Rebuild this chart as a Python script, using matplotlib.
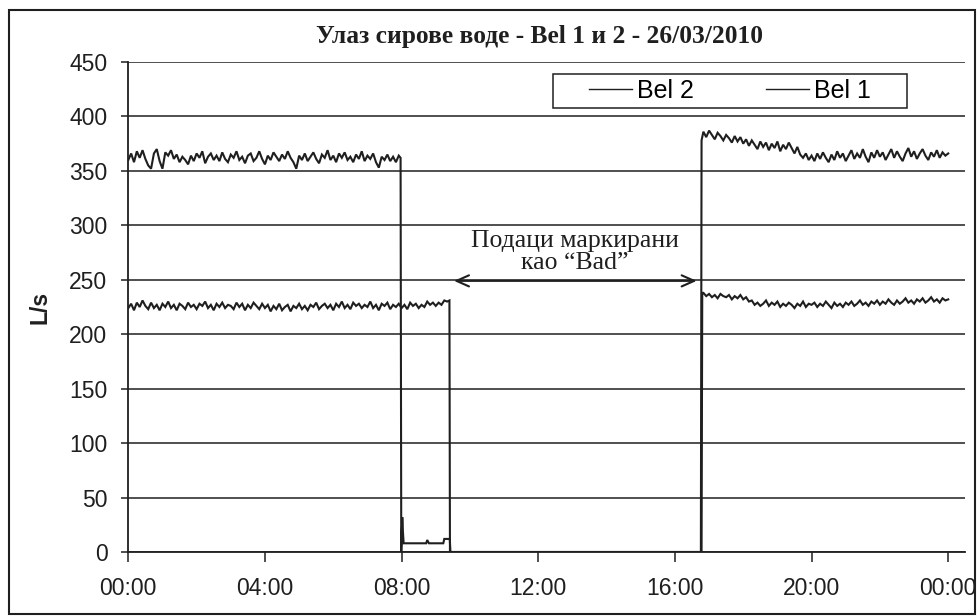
"""Улаз сирове воде - Bel 1 и 2 - 26/03/2010 (Excel-style trace, black & white)."""

import matplotlib

matplotlib.use("Agg")
import matplotlib.pyplot as plt
import numpy as np
from matplotlib.patches import Rectangle

plt.rcParams.update({"font.family": "Liberation Sans"})

INK = "#1f1f1f"
STEP = 1 / 12  # 5 minutes, in hours

# Bel 1: 00:00 -> 07:55, every 5 min
BEL1_A = [
    360, 366, 358, 368, 362, 369, 361, 355, 352, 366, 370, 359,
    352, 367, 364, 369, 361, 365, 358, 363, 360, 356, 364, 359,
    366, 362, 368, 357, 363, 366, 360, 364, 359, 367, 361, 358,
    365, 362, 368, 360, 363, 357, 364, 366, 359, 362, 368, 361,
    356, 364, 360, 367, 363, 359, 365, 361, 368, 362, 358, 352,
    364, 360, 366, 359, 363, 367, 361, 357, 365, 362, 369, 360,
    364, 358, 366, 362, 367, 360, 363, 358, 365, 361, 368, 359,
    364, 361, 366, 358, 353, 363, 360, 365, 359, 363, 358, 364,
]
# Bel 1: drop at ~08:00, low readings, "Bad" gap, restart ~16:46
BEL1_MID_T = [7.97, 7.99, 8.02, 8.04, 8.06, 8.72, 8.75, 8.80, 9.22, 9.25, 9.41, 9.43, 16.76, 16.78]
BEL1_MID_V = [362, 0, 32, 18, 8, 8, 11, 8, 8, 12, 12, 0, 0, 378]
# Bel 1: 16:50 -> 24:00, every 5 min
BEL1_B = [
    386, 381, 387, 383, 379, 385, 382, 378, 383, 380, 376, 382,
    377, 381, 375, 379, 373, 378, 374, 370, 377, 372, 376, 369,
    375, 371, 377, 368, 374, 370, 376, 371, 366, 372, 365, 362,
    366, 360, 364, 359, 366, 361, 367, 362, 358, 365, 360, 368,
    362, 366, 359, 364, 369, 361, 366, 362, 370, 363, 358, 367,
    362, 369, 363, 367, 360, 365, 370, 362, 368, 363, 359, 366,
    371, 363, 368, 361, 366, 370, 364, 360, 367, 363, 369, 362,
    367, 364, 366,
]

# Bel 2: 00:00 -> 09:20, every 5 min
BEL2_A = [
    224, 228, 222, 229, 225, 231, 226, 223, 229, 224, 227, 222,
    228, 225, 230, 224, 227, 222, 228, 226, 223, 229, 225, 227,
    223, 228, 226, 230, 224, 227, 222, 228, 225, 229, 224, 227,
    226, 223, 229, 225, 228, 222, 227, 224, 229, 226, 223, 228,
    224, 227, 221, 226, 223, 228, 222, 225, 227, 221, 226, 224,
    228, 223, 226, 222, 227, 225, 229, 223, 226, 228, 224, 227,
    222, 228, 225, 230, 224, 227, 223, 229, 226, 228, 224, 227,
    225, 230, 224, 227, 222, 228, 226, 229, 223, 227, 225, 228,
    224, 227, 223, 229, 226, 228, 224, 227, 225, 230, 227, 229,
    226, 229, 227, 231, 230,
]
BEL2_MID_T = [9.40, 9.415, 16.78, 16.80]
BEL2_MID_V = [231, 0, 0, 238]
# Bel 2: 16:50 -> 24:00, every 5 min
BEL2_B = [
    238, 235, 237, 234, 236, 233, 237, 235, 234, 236, 232, 235,
    233, 236, 232, 234, 230, 231, 227, 229, 226, 228, 231, 226,
    229, 227, 230, 225, 228, 226, 229, 227, 224, 228, 226, 230,
    225, 228, 227, 229, 225, 228, 226, 230, 227, 224, 229, 226,
    228, 225, 229, 227, 230, 226, 228, 231, 227, 229, 226, 230,
    228, 231, 227, 230, 228, 232, 229, 227, 231, 228, 230, 233,
    229, 231, 228, 232, 230, 233, 229, 231, 234, 230, 232, 229,
    233, 231, 232,
]

XTICKS = [0, 4, 8, 12, 16, 20, 24]
XLABELS = ["00:00", "04:00", "08:00", "12:00", "16:00", "20:00", "00:00"]
YTICKS = list(range(0, 451, 50))


def series(a, mid_t, mid_v, b, start_a=0.0, start_b=16 + 50 / 60):
    t = np.concatenate([start_a + np.arange(len(a)) * STEP, mid_t, start_b + np.arange(len(b)) * STEP])
    v = np.concatenate([a, mid_v, b])
    return t, v


def main() -> None:
    fig = plt.figure(figsize=(9.79, 6.16), dpi=100)
    ax = fig.add_axes([128.3 / 979, 64 / 616, 837 / 979, 490 / 616])

    t1, v1 = series(BEL1_A, BEL1_MID_T, BEL1_MID_V, BEL1_B)
    t2, v2 = series(BEL2_A, BEL2_MID_T, BEL2_MID_V, BEL2_B)
    l2, = ax.plot(t2, v2, color=INK, lw=1.5, zorder=3, solid_joinstyle="miter")
    l1, = ax.plot(t1, v1, color=INK, lw=1.5, zorder=3, solid_joinstyle="miter")

    ax.set_xlim(0, 24.5)
    ax.set_ylim(0, 450)
    ax.set_xticks(XTICKS)
    ax.set_xticklabels(XLABELS)
    ax.set_yticks(YTICKS)
    ax.yaxis.grid(True, color=INK, lw=1.1)
    ax.set_axisbelow(True)
    ax.tick_params(axis="x", direction="out", length=7, width=1.1, pad=11, labelsize=16.5, colors=INK)
    ax.tick_params(axis="y", direction="out", length=5, width=1.1, pad=10, labelsize=16.5, colors=INK)
    for s in ("top", "right"):
        ax.spines[s].set_visible(False)
    for s in ("left", "bottom"):
        ax.spines[s].set_color(INK)
        ax.spines[s].set_linewidth(1.3)

    ax.annotate(
        "", xy=(9.45, 249), xytext=(16.72, 249),
        arrowprops=dict(arrowstyle="<->,head_length=0.9,head_width=0.4", color=INK, lw=1.5),
    )
    ax.text(13.07, 275.5, "Подаци маркирани\nкао “Bad”", ha="center", va="center",
            family="Liberation Serif", fontsize=18.5, color=INK, linespacing=0.98)

    # legend: entries centred inside a plain box, like the Excel original
    ax.add_patch(Rectangle((0.507, 0.906), 0.423, 0.0695, transform=ax.transAxes,
                           fill=True, fc="white", ec=INK, lw=1.1, zorder=4))
    leg = ax.legend(
        [l2, l1], ["Bel 2", "Bel 1"], ncol=2, loc="center",
        bbox_to_anchor=(0.7185, 0.9405), fontsize=18, frameon=False,
        handlelength=1.72, handletextpad=0.2, columnspacing=2.9, borderpad=0,
    )
    leg.set_zorder(5)
    for h in leg.get_lines():
        h.set_linewidth(1.0)

    fig.text(540 / 979, 1 - 37 / 616, "Улаз сирове воде - Bel 1 и 2 - 26/03/2010",
             ha="center", va="center", family="Liberation Serif", fontweight="bold",
             fontsize=18.4, color=INK)
    fig.text(40 / 979, (64 + 245) / 616, "L/s", rotation=90, ha="center", va="center",
             fontweight="bold", fontsize=16.5, color=INK)

    fig.patches.append(Rectangle((9 / 979, 2 / 616), 966 / 979, 604 / 616,
                                 transform=fig.transFigure, fill=False, ec=INK, lw=1.5))
    fig.savefig("out.png", dpi=100)
    plt.close(fig)


if __name__ == "__main__":
    main()
